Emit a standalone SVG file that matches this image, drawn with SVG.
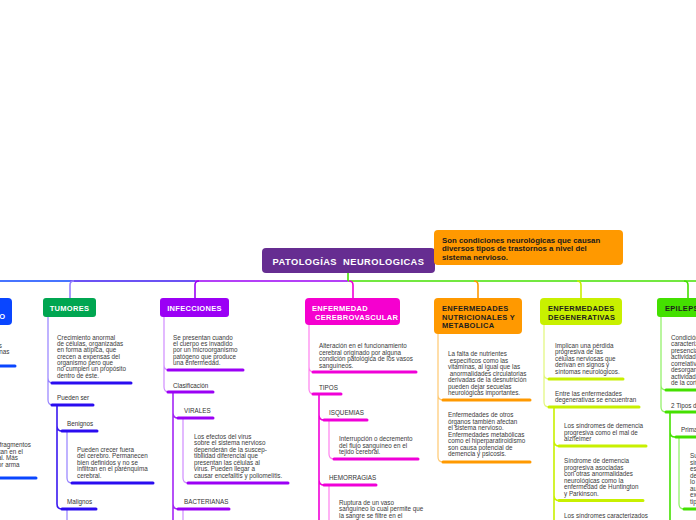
<svg xmlns="http://www.w3.org/2000/svg" width="696" height="520" viewBox="0 0 696 520">
<style>
text{font-family:"Liberation Sans",Arial,sans-serif}
.b{font-size:6.3px;fill:#3a3a3a}
.lb{font-size:6.3px;fill:#333}
.nl{font-size:7.5px;font-weight:bold;letter-spacing:.3px}
.w{fill:#fff}.d{fill:#1e1e1e}
.u{fill:none;stroke-width:3;stroke-linecap:round}
.c{fill:none;stroke-width:1.2}
.m{fill:none;stroke-width:1.6}
</style>
<rect width="696" height="520" fill="#fff"/>
<g id="connectors">
<path d="M0 281 H70" stroke="#0a46ff" class="m"/>
<path d="M70 281 H195" stroke="#3a18f0" class="m"/>
<path d="M195 281 H348" stroke="#9b00f5" class="m"/>
<path d="M348 281 H696" stroke="#44e000" class="m"/>
<path d="M348 273 V281" stroke="#44e000" class="m"/>
<path d="M74 281 Q70 281 70 285 V298" stroke="#9580ff" class="m"/>
<path d="M199 281 Q195 281 195 285 V298" stroke="#9b00f5" class="m"/>
<path d="M349 281 Q353 281 353 285 V298" stroke="#f000d8" class="m"/>
<path d="M474 281 Q478 281 478 285 V298" stroke="#ff9900" class="m"/>
<path d="M577 281 Q581 281 581 285 V298" stroke="#c8f000" class="m"/>
<path d="M684 281 Q688 281 688 285 V298" stroke="#44e000" class="m"/>
<path d="M-10 366 H15" stroke="#0a46ff" class="u"/>
<path d="M-10 478 H36" stroke="#0a46ff" class="u"/>
<path d="M48 317 V378 Q48 383 53 383 M48 378 V400 Q48 405 53 405" stroke="#9580ff" class="c"/>
<path d="M57 405 V426 Q57 431 62 431 M57 426 V504 Q57 509 62 509" stroke="#3a18f0" class="m"/>
<path d="M67 431 V478 Q67 483 72 483 M67 509 V520" stroke="#9580ff" class="c"/>
<path d="M52 383 H131 M52 405 H93 M62 431 H97 M72 483 H153 M62 509 H96" stroke="#2a0cf0" class="u"/>
<path d="M164 317 V365 Q164 370 169 370 M164 365 V387 Q164 392 169 392" stroke="#d08cff" class="c"/>
<path d="M173 392 V520 M173 413 Q173 418 178 418 M173 504 Q173 509 178 509" stroke="#a426f5" class="m"/>
<path d="M183 418 V478 Q183 483 188 483 M183 509 V520" stroke="#d08cff" class="c"/>
<path d="M168 370 H243 M168 392 H213 M178 418 H213 M188 483 H288 M178 509 H229" stroke="#9b00f5" class="u"/>
<path d="M309 325 V367 Q309 372 314 372 M309 367 V389 Q309 394 314 394" stroke="#ff80ee" class="c"/>
<path d="M319 394 V520 M319 415 Q319 420 324 420 M319 480 Q319 485 324 485" stroke="#f000d8" class="m"/>
<path d="M329 420 V454 Q329 459 334 459 M329 485 V520" stroke="#ff80ee" class="c"/>
<path d="M313 372 H416 M313 394 H341 M324 420 H367 M334 459 H418 M324 485 H376" stroke="#f000d8" class="u"/>
<path d="M438 334 V395 Q438 400 443 400 M438 395 V457 Q438 462 443 462" stroke="#ffc870" class="c"/>
<path d="M443 400 H530 M443 462 H530" stroke="#ff9900" class="u"/>
<path d="M544 325 V374 Q544 379 549 379 M544 374 V402 Q544 407 549 407" stroke="#e2f77a" class="c"/>
<path d="M554 407 V520 M554 441 Q554 446 559 446 M554 495.5 Q554 500.5 559 500.5" stroke="#c8f000" class="m"/>
<path d="M549 379 H623 M549 407 H639 M559 446 H646 M559 500.5 H643" stroke="#c8f000" class="u"/>
<path d="M661 317 V385 Q661 390 666 390 M661 385 V407 Q661 412 666 412" stroke="#8cf060" class="c"/>
<path d="M670 412 V520 M670 432 Q670 437 675 437" stroke="#44e000" class="m"/>
<path d="M679 437 V504 Q679 509 684 509" stroke="#8cf060" class="c"/>
<path d="M666 390 H700 M666 412 H700 M676 437 H700 M684 509 H700" stroke="#44e000" class="u"/>
</g>

<g id="root">
<rect x="262" y="248" width="173" height="25" rx="4" fill="#662d91"/>
<text x="348.5" y="264.5" text-anchor="middle" font-size="9.3" font-weight="bold" letter-spacing=".45" fill="#fff">PATOLOGÍAS&#160; NEUROLOGICAS</text>
</g>

<g id="callout">
<rect x="434" y="230" width="189" height="35" rx="4" fill="#ff9900"/>
<text x="442" y="242.5" font-size="7.8" font-weight="bold" fill="#1a1a1a"><tspan x="442">Son condiciones neurológicas que causan</tspan><tspan x="442" dy="8.6">diversos tipos de trastornos a nivel del</tspan><tspan x="442" dy="8.6">sistema nervioso.</tspan></text>
</g>

<g id="node-left">
<rect x="-60" y="298" width="72" height="27" rx="4" fill="#0a46ff"/>
<text x="5.5" y="319" text-anchor="end" class="nl w">CRANEOENCEFÁLICO</text>
<text x="2" y="347.7" text-anchor="end" class="b">lesiones</text>
<text x="9.5" y="354" text-anchor="end" class="b">internas</text>
<text x="31" y="447" text-anchor="end" class="b">fragmentos</text>
<text x="23" y="453.7" text-anchor="end" class="b">ocan en el</text>
<text x="18" y="460.3" text-anchor="end" class="b">cerebral. Más</text>
<text x="19.5" y="467" text-anchor="end" class="b">por arma</text>
</g>

<g id="node-tumores">
<rect x="43" y="298" width="53" height="19" rx="3" fill="#00a651"/>
<text x="69.5" y="310.8" text-anchor="middle" class="nl w">TUMORES</text>
<text class="b" y="339.5"><tspan x="57">Crecimiento anormal</tspan><tspan x="57" dy="6.35">de células, organizadas</tspan><tspan x="57" dy="6.35">en forma atípica, que</tspan><tspan x="57" dy="6.35">crecen a expensas del</tspan><tspan x="57" dy="6.35">organismo pero que</tspan><tspan x="57" dy="6.35">no cumplen un propósito</tspan><tspan x="57" dy="6.35">dentro de éste.</tspan></text>
<text class="lb" x="57" y="400.3">Pueden ser</text>
<text class="lb" x="67" y="426.3">Benignos</text>
<text class="b" y="451.5"><tspan x="77">Pueden crecer fuera</tspan><tspan x="77" dy="6.5">del cerebro. Permanecen</tspan><tspan x="77" dy="6.5">bien definidos y no se</tspan><tspan x="77" dy="6.5">infiltran en el parénquima</tspan><tspan x="77" dy="6.5">cerebral.</tspan></text>
<text class="lb" x="67" y="504.3">Malignos</text>
</g>

<g id="node-infecciones">
<rect x="160" y="298" width="69" height="19" rx="3" fill="#9b00f5"/>
<text x="194.5" y="310.8" text-anchor="middle" class="nl w">INFECCIONES</text>
<text class="b" y="339.5"><tspan x="173">Se presentan cuando</tspan><tspan x="173" dy="6.45">el cuerpo es invadido</tspan><tspan x="173" dy="6.45">por un microorganismo</tspan><tspan x="173" dy="6.45">patógeno que produce</tspan><tspan x="173" dy="6.45">una enfermedad.</tspan></text>
<text class="lb" x="173" y="387.5">Clasificación</text>
<text class="lb" x="184" y="413">VIRALES</text>
<text class="b" y="438.8"><tspan x="194">Los efectos del virus</tspan><tspan x="194" dy="6.5">sobre el sistema nervioso</tspan><tspan x="194" dy="6.5">dependerán de la suscep-</tspan><tspan x="194" dy="6.5">tibilidad diferencial que</tspan><tspan x="194" dy="6.5">presentan las células al</tspan><tspan x="194" dy="6.5">virus. Pueden llegar a</tspan><tspan x="194" dy="6.5">causar encefalitis y poliomelitis.</tspan></text>
<text class="lb" x="184" y="504">BACTERIANAS</text>
</g>

<g id="node-cerebrovascular">
<rect x="305" y="298" width="95" height="27" rx="4" fill="#f500cf"/>
<text class="nl w" y="311" letter-spacing=".15"><tspan x="312">ENFERMEDAD</tspan><tspan x="315" dy="8.5">CEREBROVASCULAR</tspan></text>
<text class="b" y="348"><tspan x="319">Alteración en el funcionamiento</tspan><tspan x="319" dy="6.5">cerebral originado por alguna</tspan><tspan x="319" dy="6.5">condición patológica de los vasos</tspan><tspan x="319" dy="6.5">sanguíneos.</tspan></text>
<text class="lb" x="319" y="389.5">TIPOS</text>
<text class="lb" x="329" y="415">ISQUEMIAS</text>
<text class="b" y="441"><tspan x="339">Interrupción o decremento</tspan><tspan x="339" dy="6.5">del flujo sanguíneo en el</tspan><tspan x="339" dy="6.5">tejido cerebral.</tspan></text>
<text class="lb" x="329" y="480">HEMORRAGIAS</text>
<text class="b" y="504.5"><tspan x="339">Ruptura de un vaso</tspan><tspan x="339" dy="6.5">sanguíneo lo cual permite que</tspan><tspan x="339" dy="6.5">la sangre se filtre en el</tspan></text>
</g>

<g id="node-nutricionales">
<rect x="434" y="298" width="88" height="36" rx="4" fill="#ff9900"/>
<text class="nl d" y="311"><tspan x="442">ENFERMEDADES</tspan><tspan x="442" dy="8.5">NUTRICIONALES Y</tspan><tspan x="442" dy="8.5">METABOLICA</tspan></text>
<text class="b" y="356" xml:space="preserve"><tspan x="448">La falta de nutrientes</tspan><tspan x="448" dy="6.5"> específicos como las</tspan><tspan x="448" dy="6.5">vitaminas, al igual que las</tspan><tspan x="448" dy="6.5"> anormalidades circulatorias</tspan><tspan x="448" dy="6.5">derivadas de la desnutrición</tspan><tspan x="448" dy="6.5">pueden dejar secuelas</tspan><tspan x="448" dy="6.5">neurológicas importantes.</tspan></text>
<text class="b" y="417"><tspan x="448">Enfermedades de otros</tspan><tspan x="448" dy="6.5">órganos también afectan</tspan><tspan x="448" dy="6.5">el sistema nervioso.</tspan><tspan x="448" dy="6.5">Enfermedades metabólicas</tspan><tspan x="448" dy="6.5">como el hiperparatiroidismo</tspan><tspan x="448" dy="6.5">son causa potencial de</tspan><tspan x="448" dy="6.5">demencia y psicosis.</tspan></text>
</g>

<g id="node-degenerativas">
<rect x="540" y="298" width="82" height="27" rx="4" fill="#c8f000"/>
<text class="nl d" y="311"><tspan x="548">ENFERMEDADES</tspan><tspan x="548" dy="8.5">DEGENERATIVAS</tspan></text>
<text class="b" y="347.7"><tspan x="555">Implican una pérdida</tspan><tspan x="555" dy="6.5">progresiva de las</tspan><tspan x="555" dy="6.5">células nerviosas que</tspan><tspan x="555" dy="6.5">derivan en signos y</tspan><tspan x="555" dy="6.5">síntomas neurológicos.</tspan></text>
<text class="b" y="395.5"><tspan x="555">Entre las enfermedades</tspan><tspan x="555" dy="6.5">degenerativas se encuentran</tspan></text>
<text class="b" y="428"><tspan x="564">Los síndromes de demencia</tspan><tspan x="564" dy="6.5">progresiva como el mal de</tspan><tspan x="564" dy="6.5">alzheimer</tspan></text>
<text class="b" y="463"><tspan x="564">Síndrome de demencia</tspan><tspan x="564" dy="6.5">progresiva asociadas</tspan><tspan x="564" dy="6.5">con otras anormalidades</tspan><tspan x="564" dy="6.5">neurológicas como la</tspan><tspan x="564" dy="6.5">enfermedad de Huntington</tspan><tspan x="564" dy="6.5">y Parkinson.</tspan></text>
<text class="b" x="564" y="518">Los síndromes caracterizados</text>
</g>

<g id="node-epilepsia">
<rect x="657" y="298" width="50" height="19" rx="3" fill="#44e000"/>
<text x="665" y="310.8" class="nl d">EPILEPSIA</text>
<text class="b" y="339.5"><tspan x="671">Condición crónica</tspan><tspan x="671" dy="6.5">caracterizada por la</tspan><tspan x="671" dy="6.5">presencia de crisis</tspan><tspan x="671" dy="6.5">actividad eléctrica</tspan><tspan x="671" dy="6.5">correlativa a la</tspan><tspan x="671" dy="6.5">desorganización de la</tspan><tspan x="671" dy="6.5">actividad neuronal</tspan><tspan x="671" dy="6.5">de la corteza cerebral.</tspan></text>
<text class="lb" x="671" y="407.5">2 Tipos de crisis</text>
<text class="lb" x="681" y="432">Primarias</text>
<text class="b" y="458"><tspan x="690">Su origen</tspan><tspan x="690" dy="6.5">sin causa</tspan><tspan x="690" dy="6.5">estructural</tspan><tspan x="690" dy="6.5">demostrable</tspan><tspan x="690" dy="6.5">lo que</tspan><tspan x="690" dy="6.5">aumenta</tspan><tspan x="690" dy="6.5">existe</tspan><tspan x="690" dy="6.5">tipo</tspan></text>
</g>
</svg>
